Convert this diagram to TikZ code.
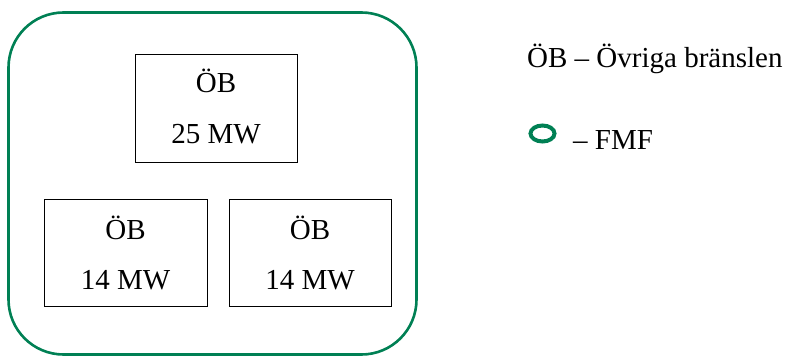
\documentclass[tikz,border=0pt]{standalone}
\usepackage{fontspec}
\setmainfont{Liberation Serif}
\definecolor{fmfgreen}{RGB}{0,128,84}
\begin{document}
\begin{tikzpicture}[x=1pt,y=-1pt,
  txt/.style={font=\fontsize{29}{34}\selectfont, inner sep=0pt, anchor=base},
  unitbox/.style={draw=black, line width=1pt, inner sep=0pt},
  region/.style={draw=fmfgreen, line width=2.6pt, rounded corners=55pt}]
\useasboundingbox (0,0) rectangle (787,356);
% district boundary
\draw[region] (8.5,12.5) rectangle (416.5,354.5);
% plants
\node[unitbox, minimum width=162pt, minimum height=108pt] (b1) at (216,108) {};
\node[unitbox, minimum width=163pt, minimum height=107pt] (b2) at (125.5,253) {};
\node[unitbox, minimum width=162pt, minimum height=107pt] (b3) at (310,253) {};
\node[txt] (b1a) at (216,92) {ÖB};
\node[txt] (b1b) at (216,143) {25 MW};
\node[txt] (b2a) at (125.5,239) {ÖB};
\node[txt] (b2b) at (125.5,289) {14 MW};
\node[txt] (b3a) at (310,239) {ÖB};
\node[txt] (b3b) at (310,289) {14 MW};
% legend
\node[txt, anchor=base west] (l1) at (527,67) {ÖB – Övriga bränslen};
\draw[fmfgreen, line width=4pt] (542.5,133.5) ellipse (12pt and 8pt);
\node[txt, anchor=base west] (l2) at (573,149) {– FMF};
\end{tikzpicture}
\end{document}
